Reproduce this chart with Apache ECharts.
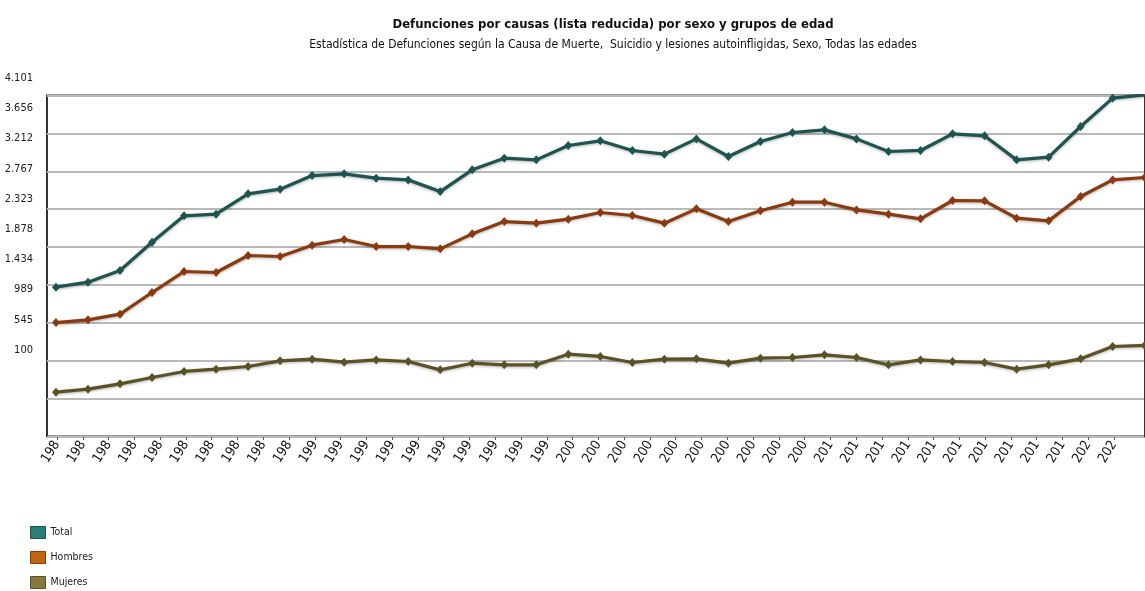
<!DOCTYPE html>
<html>
<head>
<meta charset="utf-8">
<script src="https://cdn.jsdelivr.net/npm/echarts@6/dist/echarts.min.js"></script>
<style>
html,body{margin:0;padding:0;background:#fff;}
#chart{width:1145px;height:591px;}
</style>
</head>
<body>
<div id="chart"></div>
<script>
// ---- data ----
const years = [1980,1981,1982,1983,1984,1985,1986,1987,1988,1989,
               1990,1991,1992,1993,1994,1995,1996,1997,1998,1999,
               2000,2001,2002,2003,2004,2005,2006,2007,2008,2009,
               2010,2011,2012,2013,2014];
const xLabels = ['1980','1981','1982','1983','1984','1985','1986','1987','1988','1989',
                 '1990','1991','1992','1993','1994','1995','1996','1997','1998','1999',
                 '2000','2001','2002','2003','2004','2005','2006','2007','2008','2009',
                 '2010','2011','2012','2013','2014','2015','2016','2017','2018','2019',
                 '2020','2021'];
const total   = [1652,1711,1848,2180,2489,2509,2747,2802,2962,2982,
                 2931,2911,2774,3029,3166,3146,3314,3369,3256,3213,
                 3392,3185,3361,3467,3498,3392,3244,3256,3451,3428,
                 3146,3177,3537,3870,3908];
const hombres = [1237,1269,1335,1589,1836,1824,2024,2012,2145,2211,
                 2129,2129,2102,2278,2422,2403,2450,2528,2493,2403,
                 2571,2422,2548,2649,2649,2559,2509,2454,2669,2665,
                 2462,2430,2716,2911,2939];
const mujeres = [420,455,518,592,663,690,721,788,807,772,
                 799,780,682,760,741,741,866,839,768,807,
                 811,760,819,827,858,827,741,799,780,768,
                 690,741,811,956,969];
const yTickLabels = ['100','545','989','1.434','1.878','2.323','2.767','3.212','3.656','4.101'];
const seriesNames = ['Total','Hombres','Mujeres'];

// ---- chart ----
const FONT = '"Liberation Sans Narrow","DejaVu Sans Condensed","Liberation Sans",sans-serif';
const lineColors = ['#1d5450','#8a3a0e','#5a5224'];
const legendColors = ['#2e7c78','#c0660f','#857a3c'];
const seriesData = [total, hombres, mujeres];

const chart = echarts.init(document.getElementById('chart'), null, {renderer:'canvas'});

const series = seriesNames.map((name, i) => ({
  name: name,
  type: 'line',
  xAxisIndex: 0,
  yAxisIndex: 0,
  data: years.map((y, k) => [y, seriesData[i][k]]),
  symbol: 'diamond',
  symbolSize: [8, 9],
  clip: true,
  lineStyle: {color: lineColors[i], width: 3.2, shadowColor: 'rgba(0,0,0,0.3)', shadowBlur: 3, shadowOffsetY: 1},
  itemStyle: {color: lineColors[i]},
  emphasis: {disabled: true},
  z: 5 - i
}));

chart.setOption({
  animation: false,
  backgroundColor: '#ffffff',
  title: {
    text: 'Defunciones por causas (lista reducida) por sexo y grupos de edad',
    subtext: 'Estadística de Defunciones según la Causa de Muerte,  Suicidio y lesiones autoinfligidas, Sexo, Todas las edades',
    left: 608,
    textAlign: 'center',
    top: 13,
    itemGap: 8,
    textStyle: {fontFamily: FONT, fontSize: 13, fontWeight: 'bold', color: '#111'},
    subtextStyle: {fontFamily: FONT, fontSize: 12, color: '#111'}
  },
  legend: {
    orient: 'vertical',
    left: 30,
    top: 526,
    padding: 0,
    itemWidth: 15,
    itemHeight: 12,
    itemGap: 12,
    icon: 'rect',
    textStyle: {fontFamily: FONT, fontSize: 10.5, color: '#222'},
    data: seriesNames.map((n, i) => ({name: n, itemStyle: {color: legendColors[i], borderColor: lineColors[i], borderWidth: 1}}))
  },
  grid: [
    {left: 47, right: -10, top: 95.5, height: 341, show: true, borderColor: '#333', borderWidth: 2, backgroundColor: 'transparent'},
    {left: 38, width: 10, top: 78, height: 272},
    {left: 57, right: 31, top: 300, bottom: 154}
  ],
  xAxis: [
    {gridIndex: 0, type: 'value', min: 1979.72, max: 2014.01, show: false},
    {gridIndex: 1, type: 'value', show: false},
    {gridIndex: 2, type: 'category', data: xLabels, boundaryGap: false,
     axisLine: {show: false},
     axisTick: {show: true, length: 3, lineStyle: {color: '#555'}},
     axisLabel: {rotate: 58, interval: 0, margin: 5, fontFamily: FONT, fontSize: 13.5, color: '#111',
                 width: 26, overflow: 'truncate', ellipsis: ''}}
  ],
  yAxis: [
    {gridIndex: 0, type: 'value', min: -100, max: 3901, show: false},
    {gridIndex: 0, type: 'value', min: 0, max: 9, interval: 1,
     axisLine: {show: true, lineStyle: {color: '#333', width: 2}},
     axisTick: {show: true, length: 4, lineStyle: {color: '#444'}},
     axisLabel: {show: false},
     splitLine: {show: true, lineStyle: {color: '#b9b9b9', width: 2}}},
    {gridIndex: 1, type: 'value', min: 0, max: 9, interval: 1,
     axisLine: {show: false}, axisTick: {show: false}, splitLine: {show: false},
     axisLabel: {margin: 5, fontFamily: FONT, fontSize: 11, color: '#222',
                 formatter: v => yTickLabels[v]}},
    {gridIndex: 2, type: 'value', show: false}
  ],
  series: series
});
</script>
</body>
</html>
